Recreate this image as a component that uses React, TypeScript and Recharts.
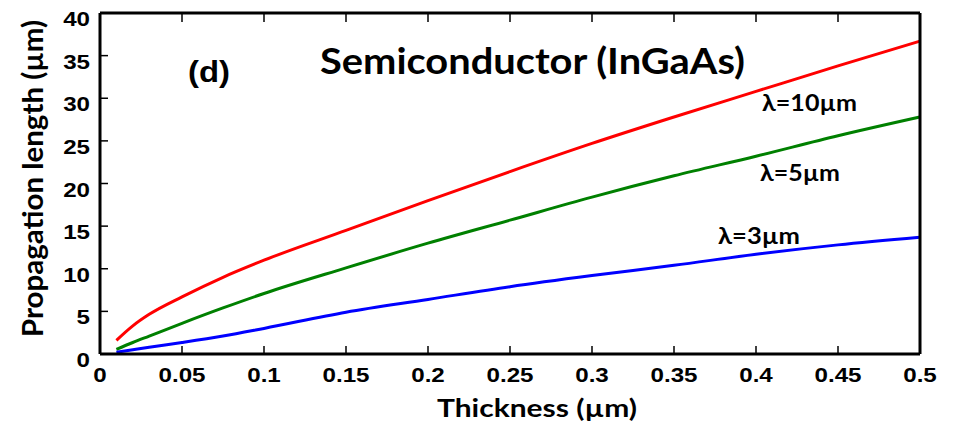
import React from "react";
import { LineChart, Line, XAxis, YAxis, Customized } from "recharts";

// thickness (µm)
const THICKNESS = [0.01, 0.02, 0.03, 0.05, 0.075, 0.1, 0.15, 0.2, 0.25, 0.3, 0.35, 0.4, 0.45, 0.5];
// propagation length (µm) per wavelength
const LAMBDA_10 = [1.6, 3.3, 4.65, 6.7, 9.0, 11.0, 14.5, 18.0, 21.4, 24.7, 27.8, 30.8, 33.8, 36.7];
const LAMBDA_5 = [0.55, 1.35, 2.1, 3.6, 5.4, 7.1, 10.1, 13.0, 15.7, 18.4, 20.9, 23.2, 25.6, 27.8];
const LAMBDA_3 = [0.2, 0.5, 0.8, 1.35, 2.1, 3.0, 4.9, 6.4, 7.9, 9.2, 10.4, 11.7, 12.8, 13.7];

const X_TICKS = [0, 0.05, 0.1, 0.15, 0.2, 0.25, 0.3, 0.35, 0.4, 0.45, 0.5];
const Y_TICKS = [0, 5, 10, 15, 20, 25, 30, 35, 40];

const data = THICKNESS.map((x, i) => ({
  x,
  l10: LAMBDA_10[i],
  l5: LAMBDA_5[i],
  l3: LAMBDA_3[i],
}));

const TICK_FONT = "'Liberation Sans', Arial, sans-serif";
const LABEL_FONT = "Lato, 'Open Sans', sans-serif";
const TICK_LEN = 8;

// the original figure is a little stretched sideways
const BottomTick = (props: any) => {
  const { x, y, payload } = props;
  return (
    <g>
      <line x1={x} y1={y} x2={x} y2={y - TICK_LEN} stroke="#000" strokeWidth={1.5} />
      <text
        transform={`translate(${x} ${y + 28}) scale(1.15 1)`}
        textAnchor="middle"
        fontFamily={TICK_FONT}
        fontWeight="bold"
        fontSize={21}
        fill="#000"
      >
        {String(payload.value)}
      </text>
    </g>
  );
};

const LeftTick = (props: any) => {
  const { x, y, payload } = props;
  return (
    <g>
      <line x1={x} y1={y} x2={x + TICK_LEN} y2={y} stroke="#000" strokeWidth={1.5} />
      <text
        transform={`translate(${x - 10} ${y + 13}) scale(1.15 1)`}
        textAnchor="end"
        fontFamily={TICK_FONT}
        fontWeight="bold"
        fontSize={21}
        fill="#000"
      >
        {String(payload.value)}
      </text>
    </g>
  );
};

const TopTick = (props: any) => {
  const { x, y } = props;
  return <line x1={x} y1={y + 1} x2={x} y2={y + 1 + TICK_LEN} stroke="#000" strokeWidth={1.5} />;
};

const RightTick = (props: any) => {
  const { x, y } = props;
  return <line x1={x - 1} y1={y} x2={x - 1 - TICK_LEN} y2={y} stroke="#000" strokeWidth={1.5} />;
};

const Annotations = () => (
  <g fontFamily={LABEL_FONT} fontWeight="bold" fill="#000">
    <text x={320} y={74} fontSize={36} textLength={425} lengthAdjust="spacingAndGlyphs">
      Semiconductor (InGaAs)
    </text>
    <text x={188} y={82} fontFamily={TICK_FONT} fontSize={29} textLength={42} lengthAdjust="spacingAndGlyphs">
      (d)
    </text>
    <text x={762} y={111} fontSize={22} textLength={95} lengthAdjust="spacingAndGlyphs">λ=10µm</text>
    <text x={760} y={181} fontSize={22} textLength={80} lengthAdjust="spacingAndGlyphs">λ=5µm</text>
    <text x={718} y={244} fontSize={22} textLength={82} lengthAdjust="spacingAndGlyphs">λ=3µm</text>
    <text x={437} y={417} fontSize={24} textLength={200} lengthAdjust="spacingAndGlyphs">
      Thickness (µm)
    </text>
    <text
      x={0}
      y={0}
      fontSize={28}
      textLength={317}
      lengthAdjust="spacingAndGlyphs"
      transform="translate(43 337) rotate(-90)"
    >
      Propagation length (µm)
    </text>
  </g>
);

export default function App() {
  return (
    <div style={{ position: "absolute", left: 0, top: 0, background: "#fff" }}>
      <LineChart width={953} height={429} data={data} margin={{ top: 12, right: 32, bottom: 15, left: 40 }}>
        <XAxis
          dataKey="x"
          type="number"
          domain={[0, 0.5]}
          ticks={X_TICKS}
          height={60}
          tickSize={0}
          tickMargin={0}
          tick={<BottomTick />}
          axisLine={{ stroke: "#000", strokeWidth: 3 }}
          tickLine={false}
        />
        <XAxis
          xAxisId="top"
          orientation="top"
          dataKey="x"
          type="number"
          domain={[0, 0.5]}
          ticks={X_TICKS.slice(1, -1)}
          height={1}
          tickSize={0}
          tickMargin={0}
          tick={<TopTick />}
          axisLine={{ stroke: "#000", strokeWidth: 3 }}
          tickLine={false}
        />
        <YAxis
          type="number"
          domain={[0, 40]}
          ticks={Y_TICKS}
          width={60}
          tickSize={0}
          tickMargin={0}
          tick={<LeftTick />}
          axisLine={{ stroke: "#000", strokeWidth: 3 }}
          tickLine={false}
        />
        <YAxis
          yAxisId="right"
          orientation="right"
          type="number"
          domain={[0, 40]}
          ticks={Y_TICKS.slice(1, -1)}
          width={1}
          tickSize={0}
          tickMargin={0}
          tick={<RightTick />}
          axisLine={{ stroke: "#000", strokeWidth: 3 }}
          tickLine={false}
        />
        <Line type="monotone" dataKey="l10" stroke="#ff0000" strokeWidth={3} dot={false} isAnimationActive={false} />
        <Line type="monotone" dataKey="l5" stroke="#008000" strokeWidth={3} dot={false} isAnimationActive={false} />
        <Line type="monotone" dataKey="l3" stroke="#0000ff" strokeWidth={3} dot={false} isAnimationActive={false} />
        <Customized component={Annotations} />
      </LineChart>
    </div>
  );
}
